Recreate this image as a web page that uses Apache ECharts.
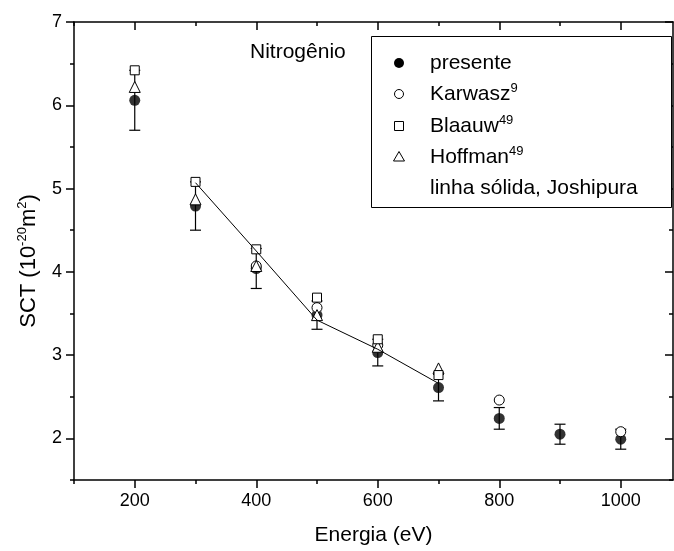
<!DOCTYPE html>
<html><head><meta charset="utf-8">
<script src="https://cdn.jsdelivr.net/npm/echarts@6/dist/echarts.min.js"></script>
<style>html,body{margin:0;padding:0;background:#fff}#c{width:674px;height:551px}</style>
</head><body><div id="c"></div>
<script>
// ---- data ----
const energies = [200, 300, 400, 500, 600, 700, 800, 900, 1000];
const presente = [6.06, 4.79, 4.04, 3.48, 3.03, 2.61, 2.24, 2.05, 1.99];
const presenteErr = [0.36, 0.29, 0.24, 0.17, 0.16, 0.16, 0.13, 0.12, 0.12];
const karwaszE = [400, 500, 600, 800, 1000];
const karwasz = [4.07, 3.57, 3.12, 2.46, 2.08];
const blaauwE = [200, 300, 400, 500, 600, 700];
const blaauw = [6.42, 5.08, 4.27, 3.69, 3.19, 2.76];
const hoffmanE = [200, 300, 400, 500, 600, 700];
const hoffman = [6.22, 4.87, 4.07, 3.48, 3.10, 2.84];
const joshipuraE = [300, 400, 500, 600, 700];
const joshipura = [5.07, 4.25, 3.42, 3.07, 2.66];
const xMajorTicks = [200, 400, 600, 800, 1000];
const xMinorTicks = [100, 300, 500, 700, 900];
const yMajorTicks = [2, 3, 4, 5, 6, 7];
const yMinorTicks = [1.5, 2.5, 3.5, 4.5, 5.5, 6.5];
const xRange = [100, 1086];
const yRange = [1.5, 7];

const FONT = 'Liberation Sans, Arial, sans-serif';
const chart = echarts.init(document.getElementById('c'), null, {renderer: 'canvas'});
const lineStyle = {color: '#000', width: 1.5};

function xAx(pos, ticks, len, inside, showLine, labels) {
  return {
    type: 'value', position: pos, min: xRange[0], max: xRange[1],
    axisLine: {show: showLine, onZero: false, lineStyle: lineStyle},
    axisTick: {show: true, customValues: ticks, length: len, inside: inside, lineStyle: {color: '#000', width: 1.5}},
    axisLabel: labels ? {show: true, customValues: ticks, fontSize: 18, color: '#000', fontFamily: FONT, margin: 12,
      formatter: v => String(v)} : {show: false},
    splitLine: {show: false}
  };
}
function yAx(pos, ticks, len, inside, showLine, labels) {
  return {
    type: 'value', position: pos, min: yRange[0], max: yRange[1],
    axisLine: {show: showLine, onZero: false, lineStyle: lineStyle},
    axisTick: {show: true, customValues: ticks, length: len, inside: inside, lineStyle: {color: '#000', width: 1.5}},
    axisLabel: labels ? {show: true, customValues: ticks, fontSize: 18, color: '#000', fontFamily: FONT, margin: 12,
      formatter: v => String(v)} : {show: false},
    splitLine: {show: false}
  };
}

const xAxes = [
  xAx('bottom', xMajorTicks, 8, false, true, true),
  xAx('bottom', xMinorTicks, 4, false, false, false),
  xAx('top', xMajorTicks, 8, true, true, false),
  xAx('top', xMinorTicks, 4, true, false, false)
];
xAxes[0].name = 'Energia (eV)';
xAxes[0].nameLocation = 'middle';
xAxes[0].nameGap = 45;
xAxes[0].nameTextStyle = {fontSize: 21, color: '#000', fontFamily: FONT};

const yAxes = [
  yAx('left', yMajorTicks, 8, false, true, true),
  yAx('left', yMinorTicks, 4, false, false, false),
  yAx('right', yMajorTicks, 8, true, true, false),
  yAx('right', yMinorTicks, 4, true, false, false)
];
yAxes[0].name = '{a|SCT (10}{s|-20}{a|m}{s|2}{a|)}';
yAxes[0].nameLocation = 'middle';
yAxes[0].nameGap = 32;
yAxes[0].nameTextStyle = {
  color: '#000', fontFamily: FONT, fontSize: 22, padding: [0, 20, 0, 0],
  rich: {
    a: {fontSize: 22, color: '#000', fontFamily: FONT},
    s: {fontSize: 13, color: '#000', fontFamily: FONT, padding: [0, 0, 13, 0]}
  }
};

const openStyle = {color: '#fff', borderColor: '#000', borderWidth: 1, opacity: 1};

const errData = energies.map((e, i) => [e, presente[i] - presenteErr[i], presente[i] + presenteErr[i]]);

const legendRows = [63, 94, 126, 157, 188];
const legText = (y, txt, sup) => ({
  type: 'text', z: 101, x: 430, y: y,
  style: {
    text: sup ? '{a|' + txt + '}{s|' + sup + '}' : txt,
    fontSize: 21, fontFamily: FONT, fill: '#000', verticalAlign: 'middle',
    rich: {
      a: {fontSize: 21, fontFamily: FONT, fill: '#000'},
      s: {fontSize: 13, fontFamily: FONT, fill: '#000', padding: [0, 0, 12, 0]}
    }
  }
});

chart.setOption({
  animation: false,
  backgroundColor: '#fff',
  textStyle: {fontFamily: FONT},
  grid: {left: 74, right: 1, top: 22, bottom: 70, containLabel: false},
  xAxis: xAxes,
  yAxis: yAxes,
  series: [
    {
      type: 'custom', name: 'err', z: 1,
      data: errData,
      renderItem: function (params, api) {
        const x = api.value(0);
        const lo = api.coord([x, api.value(1)]);
        const hi = api.coord([x, api.value(2)]);
        const w = 5.5;
        const st = {stroke: '#000', lineWidth: 1.2};
        return {type: 'group', children: [
          {type: 'line', shape: {x1: lo[0], y1: lo[1], x2: hi[0], y2: hi[1]}, style: st},
          {type: 'line', shape: {x1: lo[0] - w, y1: lo[1], x2: lo[0] + w, y2: lo[1]}, style: st},
          {type: 'line', shape: {x1: hi[0] - w, y1: hi[1], x2: hi[0] + w, y2: hi[1]}, style: st}
        ]};
      }
    },
    {type: 'scatter', name: 'presente', z: 2, symbol: 'circle', symbolSize: 11,
      itemStyle: {color: '#000'}, data: energies.map((e, i) => [e, presente[i]])},
    {type: 'scatter', name: 'Karwasz', z: 3, symbol: 'circle', symbolSize: 10,
      itemStyle: openStyle, data: karwaszE.map((e, i) => [e, karwasz[i]])},
    {type: 'scatter', name: 'Hoffman', z: 4, symbol: 'triangle', symbolSize: 11,
      itemStyle: openStyle, data: hoffmanE.map((e, i) => [e, hoffman[i]])},
    {type: 'scatter', name: 'Blaauw', z: 5, symbol: 'rect', symbolSize: 9,
      itemStyle: openStyle, data: blaauwE.map((e, i) => [e, blaauw[i]])},
    {type: 'line', name: 'Joshipura', z: 6, showSymbol: false, symbol: 'none',
      lineStyle: {color: '#000', width: 1}, data: joshipuraE.map((e, i) => [e, joshipura[i]])}
  ],
  graphic: [
    {type: 'text', z: 100, x: 250, y: 52,
      style: {text: 'Nitrogênio', fontSize: 21, fontFamily: FONT, fill: '#000', verticalAlign: 'middle'}},
    {type: 'rect', z: 100, shape: {x: 371.5, y: 36.5, width: 300, height: 171},
      style: {fill: '#fff', stroke: '#000', lineWidth: 1}},
    {type: 'circle', z: 101, shape: {cx: 399, cy: legendRows[0], r: 5}, style: {fill: '#000'}},
    {type: 'circle', z: 101, shape: {cx: 399, cy: legendRows[1], r: 4.5}, style: {fill: '#fff', stroke: '#000', lineWidth: 1}},
    {type: 'rect', z: 101, shape: {x: 394.5, y: legendRows[2] - 4.5, width: 9, height: 9}, style: {fill: '#fff', stroke: '#000', lineWidth: 1}},
    {type: 'polygon', z: 101, shape: {points: [[399, legendRows[3] - 5.5], [404.5, legendRows[3] + 4], [393.5, legendRows[3] + 4]]}, style: {fill: '#fff', stroke: '#000', lineWidth: 1}},
    legText(legendRows[0], 'presente'),
    legText(legendRows[1], 'Karwasz', '9'),
    legText(legendRows[2], 'Blaauw', '49'),
    legText(legendRows[3], 'Hoffman', '49'),
    legText(legendRows[4], 'linha sólida, Joshipura')
  ]
});
</script>
</body></html>
